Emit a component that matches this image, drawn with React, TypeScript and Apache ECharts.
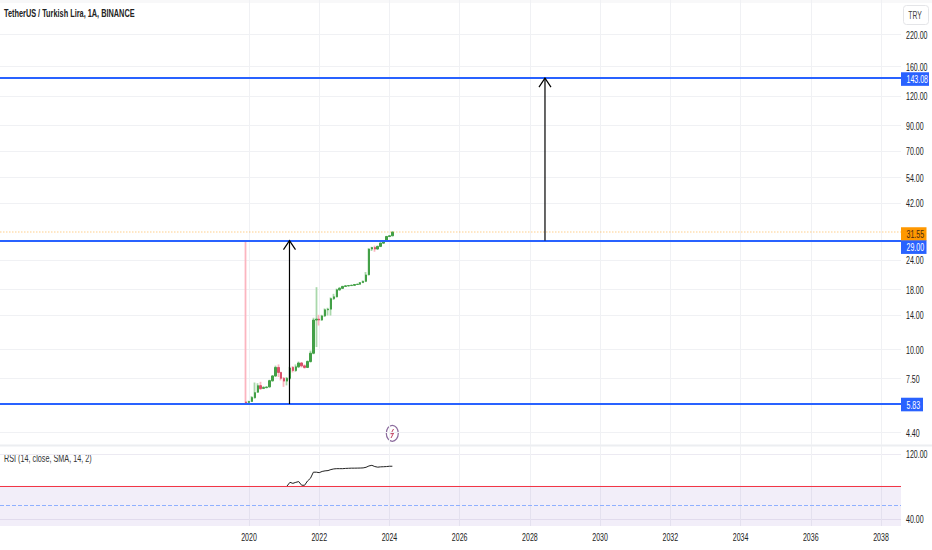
import React, { useEffect, useRef } from "react";
import * as echarts from "echarts";

const months = [
  "2019-12","2020-01","2020-02","2020-03","2020-04","2020-05","2020-06","2020-07","2020-08","2020-09","2020-10","2020-11","2020-12",
  "2021-01","2021-02","2021-03","2021-04","2021-05","2021-06","2021-07","2021-08","2021-09","2021-10","2021-11","2021-12",
  "2022-01","2022-02","2022-03","2022-04","2022-05","2022-06","2022-07","2022-08","2022-09","2022-10","2022-11","2022-12",
  "2023-01","2023-02","2023-03","2023-04","2023-05","2023-06","2023-07","2023-08","2023-09","2023-10","2023-11","2023-12",
  "2024-01","2024-02",
];
const opens = [5.95,5.92,5.98,6.2,6.55,6.98,6.8,6.85,6.9,7.33,7.68,8.35,7.95,7.5,7.3,7.5,8.36,8.1,8.4,8.72,8.48,8.35,8.85,9.6,13.3,13.42,13.3,13.85,14.7,14.8,16.4,16.7,17.9,18.15,18.5,18.6,18.65,18.7,18.85,18.9,19.2,19.45,20.75,26.7,27.1,26.7,27.4,28.3,28.9,30.2,30.4];
const closes = [5.9,5.98,6.22,6.52,6.98,6.78,6.85,6.88,7.33,7.68,8.35,7.95,7.5,7.3,7.5,8.3,8.1,8.4,8.72,8.48,8.35,8.85,9.6,13.3,13.42,13.3,13.85,14.7,14.8,16.4,16.7,17.9,18.15,18.5,18.6,18.65,18.7,18.85,18.9,19.2,19.45,20.7,26.7,27.1,26.7,27.4,28.3,28.9,30.2,30.4,31.55];
const lows = [5.83,5.85,5.95,6.15,6.5,6.7,6.75,6.8,6.85,7.25,7.6,7.6,7.35,6.9,7.0,7.4,7.95,8.0,8.3,8.35,8.25,8.3,8.75,9.5,10.2,12.6,13.2,13.7,13.9,13.9,16.2,16.6,17.7,18.1,18.4,18.5,18.6,18.65,18.8,18.85,19.15,19.3,20.6,26.2,26.0,26.6,27.2,28.1,28.8,30.0,30.3];
const highs = [29,6.02,6.3,7.2,7.15,7.25,6.95,6.95,7.4,7.75,8.5,8.6,8.0,7.6,7.6,8.4,8.45,8.6,8.85,8.8,8.6,8.95,9.85,13.6,18.36,14.0,14.0,14.9,15.0,16.6,17.2,18.1,18.4,18.6,18.7,18.75,18.85,18.95,19.0,19.3,19.6,21.3,26.9,27.3,27.6,27.6,28.5,29.1,30.4,30.6,31.7];

const rsiMonths = months.slice(14);
const rsiValues = [69.8,74.3,73.0,74.3,75.2,70.7,70.7,76,79.5,88.2,88.2,87.5,89.3,90.2,90.6,92.2,93.2,93.6,93.6,93.6,94,94.2,94.4,94.4,94.5,94.6,94.8,95.8,98,99,97,96,96.5,96.7,97,97.5,97.5];

const yearTicks = [2020,2022,2024,2026,2028,2030,2032,2034,2036,2038];
const priceTicks = [220,160,120,90,70,54,42,24,18,14,10,7.5,4.4];
const rsiTicks = [120,40];
const levelPrices = [143.08,29,5.83];
const lastPrice = 31.55;
const arrows = [
  [2021.153,5.83,29],
  [2028.43,29,143.08],
];

const FONT = "'Liberation Sans', sans-serif";
const X_MIN = 2012.908;
const X_MAX = 2038.57;
const RSI_MIN = 35.5;
const SQUEEZE = 0.67;
const toYear = (m: string) => {
  const [y, mo] = m.split("-").map(Number);
  return y + (mo - 1) / 12;
};
const GREEN = "#43a047", GREEN_PALE = "#a9d8ab", RED = "#d9506a", RED_PALE = "#fbb5c0", BLUE = "#2962ff";

// Right-hand scale labels, drawn narrow like the reference through the axis scale.
const tickLabelSeries = (axisIndex: number, ticks: number[]) => ({
  type: "custom", name: `ticks${axisIndex}`, xAxisIndex: axisIndex, yAxisIndex: axisIndex, z: 7, clip: false, silent: true,
  encode: { x: 0, y: 1 },
  data: ticks.map((t) => [X_MAX, t]),
  renderItem: (_p: any, api: any) => {
    const p = api.coord([api.value(0), api.value(1)]);
    return {
      type: "text", x: p[0] + 5, y: p[1] + 1, scaleX: SQUEEZE,
      style: { text: Number(api.value(1)).toFixed(2), fill: "#222", fontSize: 10.5, fontFamily: FONT, align: "left", verticalAlign: "middle" },
    };
  },
});

// Price tags: [x, price, vertical shift of the tag, fill, text colour]
const tagSeries = {
  type: "custom", name: "tags", xAxisIndex: 0, yAxisIndex: 0, z: 8, clip: false, silent: true,
  encode: { x: 0, y: 1 },
  data: [
    [X_MAX, lastPrice, 2, 0],
    [X_MAX, levelPrices[0], 1, 1],
    [X_MAX, levelPrices[1], 6.5, 1],
    [X_MAX, levelPrices[2], 0.5, 1],
  ],
  renderItem: (_p: any, api: any) => {
    const p = api.coord([api.value(0), api.value(1)]);
    const v = Number(api.value(1));
    const text = v.toFixed(2);
    const w = text.length >= 6 ? 28 : text.length === 5 ? 25.5 : 22;
    const cy = p[1] + Number(api.value(2));
    const blue = Number(api.value(3)) === 1;
    return {
      type: "group",
      children: [
        { type: "rect", shape: { x: p[0], y: cy - 6.8, width: w, height: 13.6 }, style: { fill: blue ? BLUE : "#ff9800" } },
        {
          type: "text", x: p[0] + 5.5, y: cy + 0.5, scaleX: SQUEEZE,
          style: { text, fill: blue ? "#fff" : "#4a2a10", fontSize: 10.5, fontFamily: FONT, align: "left", verticalAlign: "middle" },
        },
      ],
    };
  },
};

const yearLabelSeries = {
  type: "custom", name: "years", xAxisIndex: 1, yAxisIndex: 1, z: 7, clip: false, silent: true,
  encode: { x: 0, y: 1 },
  data: yearTicks.map((y) => [y, RSI_MIN]),
  renderItem: (_p: any, api: any) => {
    const p = api.coord([api.value(0), api.value(1)]);
    return {
      type: "text", x: p[0], y: p[1] + 11, scaleX: SQUEEZE,
      style: { text: String(Math.round(api.value(0))), fill: "#222", fontSize: 10.5, fontFamily: FONT, align: "center", verticalAlign: "middle" },
    };
  },
};

export default function App() {
  const ref = useRef<HTMLDivElement>(null);
  useEffect(() => {
    const chart = echarts.init(ref.current!, undefined, { renderer: "svg" });
    const xs = months.map(toYear);
    const option: any = {
      animation: false,
      backgroundColor: "#fff",
      grid: [
        { left: 0, top: 0, width: 901, height: 445, outerBoundsMode: "none" },
        { left: 0, top: 446, width: 901, height: 80, outerBoundsMode: "none" },
      ],
      xAxis: [0, 1].map((i) => ({
        type: "value", gridIndex: i, min: X_MIN, max: X_MAX,
        axisLine: { show: false },
        axisTick: { show: false, customValues: yearTicks },
        splitLine: { show: true, lineStyle: { color: "#f0f1f4", width: 1 } },
        axisLabel: { show: false },
      })),
      yAxis: [
        {
          type: "log", gridIndex: 0, position: "right", min: 3.899, max: 307.9,
          axisLine: { show: false },
          axisTick: { show: false, customValues: priceTicks },
          splitLine: { show: true, lineStyle: { color: "#f0f1f4", width: 1 } },
          minorSplitLine: { show: false },
          axisLabel: { show: false },
        },
        {
          type: "log", gridIndex: 1, position: "right", min: RSI_MIN, max: 137.3,
          axisLine: { show: false },
          axisTick: { show: false, customValues: rsiTicks },
          splitLine: { show: true, lineStyle: { color: "#eceaf2", width: 1 } },
          axisLabel: { show: false },
        },
      ],
      series: [
        {
          type: "candlestick", name: "wicks", xAxisIndex: 0, yAxisIndex: 0, barWidth: 1, z: 2,
          encode: { x: 0, y: [1, 2, 3, 4] },
          itemStyle: { color: GREEN_PALE, color0: RED_PALE, borderColor: GREEN_PALE, borderColor0: RED_PALE, borderWidth: 1.8 },
          data: xs.map((x, i) => [x, opens[i], closes[i], lows[i], highs[i]]),
        },
        {
          type: "candlestick", name: "bodies", xAxisIndex: 0, yAxisIndex: 0, barWidth: 2, z: 3,
          encode: { x: 0, y: [1, 2, 3, 4] },
          itemStyle: { color: GREEN, color0: RED, borderColor: GREEN, borderColor0: RED, borderWidth: 1 },
          data: xs.map((x, i) => [x, opens[i], closes[i], Math.min(opens[i], closes[i]), Math.max(opens[i], closes[i])]),
        },
        {
          type: "line", name: "levels", xAxisIndex: 0, yAxisIndex: 0, data: [], z: 5,
          markLine: {
            silent: true, symbol: "none", animation: false, z: 5, label: { show: false },
            data: [
              { yAxis: lastPrice, lineStyle: { color: "rgba(255,152,0,0.3)", width: 1.5, type: "dotted", opacity: 1 } },
              ...levelPrices.map((v) => ({ yAxis: v, lineStyle: { color: BLUE, width: 2, type: "solid", opacity: 1 } })),
            ],
          },
        },
        {
          type: "custom", name: "arrows", xAxisIndex: 0, yAxisIndex: 0, z: 6, clip: false,
          encode: { x: 0, y: [1, 2] },
          data: arrows,
          renderItem: (_p: any, api: any) => {
            const from = api.coord([api.value(0), api.value(1)]);
            const to = api.coord([api.value(0), api.value(2)]);
            const style = { stroke: "#000", lineWidth: 1.2, fill: "none" };
            return {
              type: "group",
              children: [
                { type: "line", shape: { x1: from[0], y1: from[1], x2: to[0], y2: to[1] }, style },
                { type: "polyline", shape: { points: [[to[0] - 6, to[1] + 9], [to[0], to[1]], [to[0] + 6, to[1] + 9]] }, style },
              ],
            };
          },
        },
        {
          type: "line", name: "RSI", xAxisIndex: 1, yAxisIndex: 1, z: 4, showSymbol: false, symbol: "none",
          lineStyle: { color: "#222", width: 1 },
          data: rsiMonths.map((m, i) => [toYear(m), rsiValues[i]]),
          markArea: {
            silent: true,
            itemStyle: { color: "rgba(126,87,194,0.1)" },
            data: [[{ yAxis: 70 }, { yAxis: RSI_MIN }]],
          },
          markLine: {
            silent: true, symbol: "none", label: { show: false },
            data: [
              { yAxis: 70, lineStyle: { color: "#f23645", width: 1.2, type: "solid", opacity: 1 } },
              { yAxis: 50, lineStyle: { color: "#8fb0ff", width: 1, type: "dashed", opacity: 1 } },
            ],
          },
        },
        tickLabelSeries(0, priceTicks),
        tickLabelSeries(1, rsiTicks),
        tagSeries,
        yearLabelSeries,
      ],
      graphic: [
        { type: "rect", shape: { x: 0, y: 0, width: 932, height: 3 }, style: { fill: "#f8f8f9" }, silent: true },
        { type: "rect", shape: { x: 0, y: 444.5, width: 932, height: 2 }, style: { fill: "#eceef1" }, silent: true },
        { type: "text", x: 4, y: 8, scaleX: 0.7, style: { text: "TetherUS / Turkish Lira, 1A, BINANCE", fill: "#222", font: `bold 10.5px ${FONT}` } },
        { type: "text", x: 4, y: 453, scaleX: 0.69, style: { text: "RSI (14, close, SMA, 14, 2)", fill: "#333", font: `10.5px ${FONT}` } },
        { type: "rect", shape: { x: 903.5, y: 5.5, width: 25, height: 19, r: 3 }, style: { fill: "#fff", stroke: "#e4e5e8", lineWidth: 1 } },
        { type: "text", x: 915, y: 15, scaleX: 0.65, style: { text: "TRY", fill: "#444", font: `10.5px ${FONT}`, align: "center", verticalAlign: "middle" } },
        { type: "ellipse", shape: { cx: 392.3, cy: 433.3, rx: 6, ry: 8 }, style: { fill: "#fff", stroke: "#8a6a9c", lineWidth: 1.2 } },
        { type: "polyline", shape: { points: [[393.5, 429], [390.8, 434], [393.6, 433], [391, 438]] }, style: { stroke: "#c0405f", lineWidth: 1, fill: "none" } },
      ],
    };
    chart.setOption(option);
    return () => chart.dispose();
  }, []);
  return <div ref={ref} style={{ position: "absolute", left: 0, top: 0, width: 932, height: 550 }} />;
}
